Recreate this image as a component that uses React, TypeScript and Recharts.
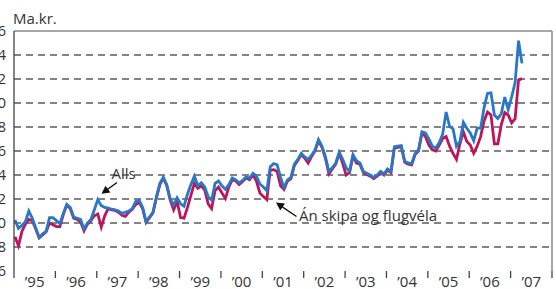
import React from 'react';
import { LineChart, Line, XAxis, YAxis, ReferenceLine } from 'recharts';

const yearLabels = ['’95', '’96', '’97', '’98', '’99', '’00', '’01', '’02', '’03', '’04', '’05', '’06', '’07'];
const yTicks = [6, 8, 10, 12, 14, 16, 18, 20, 22, 24, 26];
const gridValues = [8, 10, 12, 14, 16, 18, 20, 22, 24];

// Monthly imports, Jan 1995 - Apr 2007 (Ma.kr.)
const allsValues = [
  10.25, 9.55, 9.8, 10.1, 11.0, 10.4, 9.6, 8.8, 9.1, 9.3, 10.45, 10.45,
  10.2, 9.95, 10.8, 11.55, 11.3, 10.5, 10.4, 10.3, 9.5, 10.0, 10.3, 11.1,
  11.95, 11.45, 11.3, 11.25, 11.15, 11.1, 11.0, 10.8, 10.9, 11.0, 11.2, 11.8,
  11.9, 11.3, 10.1, 10.5, 10.9, 12.2, 13.3, 13.8, 13.2, 12.0, 11.5, 12.1,
  11.6, 11.4, 12.4, 13.2, 13.9, 13.1, 13.35, 13.0, 12.2, 11.9, 13.3, 13.5,
  13.1, 12.8, 13.2, 13.75, 13.6, 13.35, 13.55, 13.85, 13.75, 14.15, 13.9, 13.25,
  13.0, 12.7, 14.7, 14.95, 14.85, 13.8, 12.95, 13.6, 13.8, 14.9, 15.3, 15.8,
  15.5, 15.3, 15.65, 16.1, 16.95, 16.4, 15.5, 14.3, 14.6, 15.0, 15.9, 15.3,
  14.6, 14.3, 15.7, 15.2, 15.0, 14.3, 14.15, 14.0, 13.8, 14.0, 14.3, 14.1,
  14.5, 14.3, 16.35, 16.4, 16.45, 15.15, 15.0, 14.95, 15.8, 16.1, 17.6, 17.5,
  17.0, 16.4, 16.25, 16.7, 17.4, 19.25, 18.05, 17.85, 16.4, 16.8, 18.4, 17.9,
  17.5, 16.85, 17.9, 17.9, 19.6, 20.8, 20.85, 19.0, 18.7, 19.1, 20.5, 19.45,
  20.5, 21.7, 25.2, 23.3,
];

const exclShipsValues = [
  8.85, 8.1, 9.3, 9.9, 10.3, 10.2, 9.5, 8.75, 9.0, 9.25, 10.0, 9.85,
  9.7, 9.7, 10.7, 11.5, 11.2, 10.4, 10.3, 10.1, 9.35, 9.9, 10.2, 10.6,
  10.75, 9.65, 10.6, 11.2, 11.1, 11.05, 10.9, 10.65, 10.55, 10.9, 11.15, 11.55,
  11.7, 11.2, 10.05, 10.45, 10.85, 12.1, 13.2, 13.75, 13.1, 11.9, 11.1, 11.8,
  10.45, 10.4, 11.3, 12.3, 13.3, 12.9, 13.1, 12.75, 11.6, 11.2, 12.7, 13.0,
  12.5, 12.05, 13.0, 13.6, 13.5, 13.2, 13.45, 13.75, 13.6, 14.0, 13.5, 12.5,
  12.2, 11.95, 14.4, 14.45, 14.3, 13.1, 12.8, 13.5, 13.7, 14.8, 15.2, 15.7,
  15.4, 15.0, 15.55, 16.0, 16.85, 16.3, 15.4, 14.1, 14.5, 14.9, 15.8, 14.97,
  14.0, 14.2, 15.6, 15.0, 14.9, 14.2, 14.05, 13.9, 13.7, 13.9, 14.2, 14.0,
  14.4, 14.2, 16.25, 16.3, 16.35, 15.05, 14.9, 14.85, 15.7, 16.0, 17.5, 17.2,
  16.5, 16.1, 16.0, 16.5, 17.05, 17.2, 16.4, 15.8, 15.3, 16.6, 17.6, 16.8,
  16.5, 15.8, 16.4, 17.2, 18.5, 19.25, 19.0, 16.6, 16.6, 18.2, 19.2, 19.0,
  18.35, 18.7, 21.9, 22.05,
];

const data = allsValues.map((v, i) => ({ t: i + 0.3, alls: v, excl: exclShipsValues[i] }));

const xTicks: number[] = [];
for (let k = 0; k <= 26; k++) xTicks.push(k * 6);

const FONT = '"Open Sans", "Noto Sans", sans-serif';
const TEXT = '#333';

const XTick = (props: any) => {
  const { x, y, payload } = props;
  const v = payload.value as number;
  if (v % 12 === 0) {
    return <line x1={x} x2={x} y1={y} y2={y + 7} stroke="#444" strokeWidth={1.3} />;
  }
  const idx = (v - 6) / 12;
  return (
    <text x={x} y={y + 15.5} textAnchor="middle" fontFamily={FONT} fontSize={15} fill={TEXT}>
      {yearLabels[idx]}
    </text>
  );
};

function arrowHead(tx: number, ty: number, fx: number, fy: number, len = 8, half = 4.2) {
  const dx = tx - fx;
  const dy = ty - fy;
  const d = Math.sqrt(dx * dx + dy * dy);
  const ux = dx / d;
  const uy = dy / d;
  const bx = tx - ux * len;
  const by = ty - uy * len;
  const px = -uy * half;
  const py = ux * half;
  return `${tx},${ty} ${bx + px},${by + py} ${bx - px},${by - py}`;
}

export default function App() {
  return (
    <div style={{ position: 'absolute', left: 0, top: 0, width: 556, height: 289, overflow: 'hidden', background: '#fff' }}>
      <div style={{ position: 'absolute', left: -20, top: 0 }}>
        <LineChart width={576} height={289} data={data} margin={{ top: 31, right: 4, bottom: 0, left: 0 }}>
          <XAxis
            type="number"
            dataKey="t"
            domain={[0, 156]}
            ticks={xTicks}
            interval={0}
            axisLine={false}
            tickLine={false}
            tickSize={0}
            tickMargin={0}
            height={18}
            tick={<XTick />}
          />
          <YAxis
            type="number"
            domain={[6, 26]}
            ticks={yTicks}
            interval={0}
            width={34}
            tickLine={false}
            tickSize={0}
            tickMargin={8}
            axisLine={{ stroke: '#444', strokeWidth: 1.3 }}
            tick={{ fill: TEXT, fontSize: 15, fontFamily: FONT }}
          />
          {gridValues.map((g) => (
            <ReferenceLine key={g} y={g} stroke="#5c5c5c" strokeWidth={1.4} strokeDasharray="7 5" />
          ))}
          <ReferenceLine y={26} stroke="#8a8a8a" strokeWidth={1.5} />
          <ReferenceLine x={156} stroke="#8a8a8a" strokeWidth={1.5} />
          <Line
            type="linear"
            dataKey="excl"
            stroke="#be145a"
            strokeWidth={2.8}
            dot={false}
            isAnimationActive={false}
          />
          <Line
            type="linear"
            dataKey="alls"
            stroke="#2878c3"
            strokeWidth={2.8}
            dot={false}
            isAnimationActive={false}
          />
        </LineChart>
      </div>
      <svg width={556} height={289} style={{ position: 'absolute', left: 0, top: 0, pointerEvents: 'none' }}>
        <text x={13} y={24} fontFamily={FONT} fontSize={15} fill={TEXT}>Ma.kr.</text>
        <text x={111.5} y={178.5} fontFamily={FONT} fontSize={15} fill={TEXT}>Alls</text>
        <line x1={117} y1={182.5} x2={106} y2={190.5} stroke="#111" strokeWidth={1.4} />
        <polygon points={arrowHead(101.5, 193.8, 117, 182.5)} fill="#111" />
        <text x={299} y={221} fontFamily={FONT} fontSize={15} fill={TEXT}>Án skipa og flugvéla</text>
        <line x1={296.5} y1={216.5} x2={280} y2={205.3} stroke="#111" strokeWidth={1.4} />
        <polygon points={arrowHead(276, 202.5, 296.5, 216.5)} fill="#111" />
      </svg>
    </div>
  );
}
